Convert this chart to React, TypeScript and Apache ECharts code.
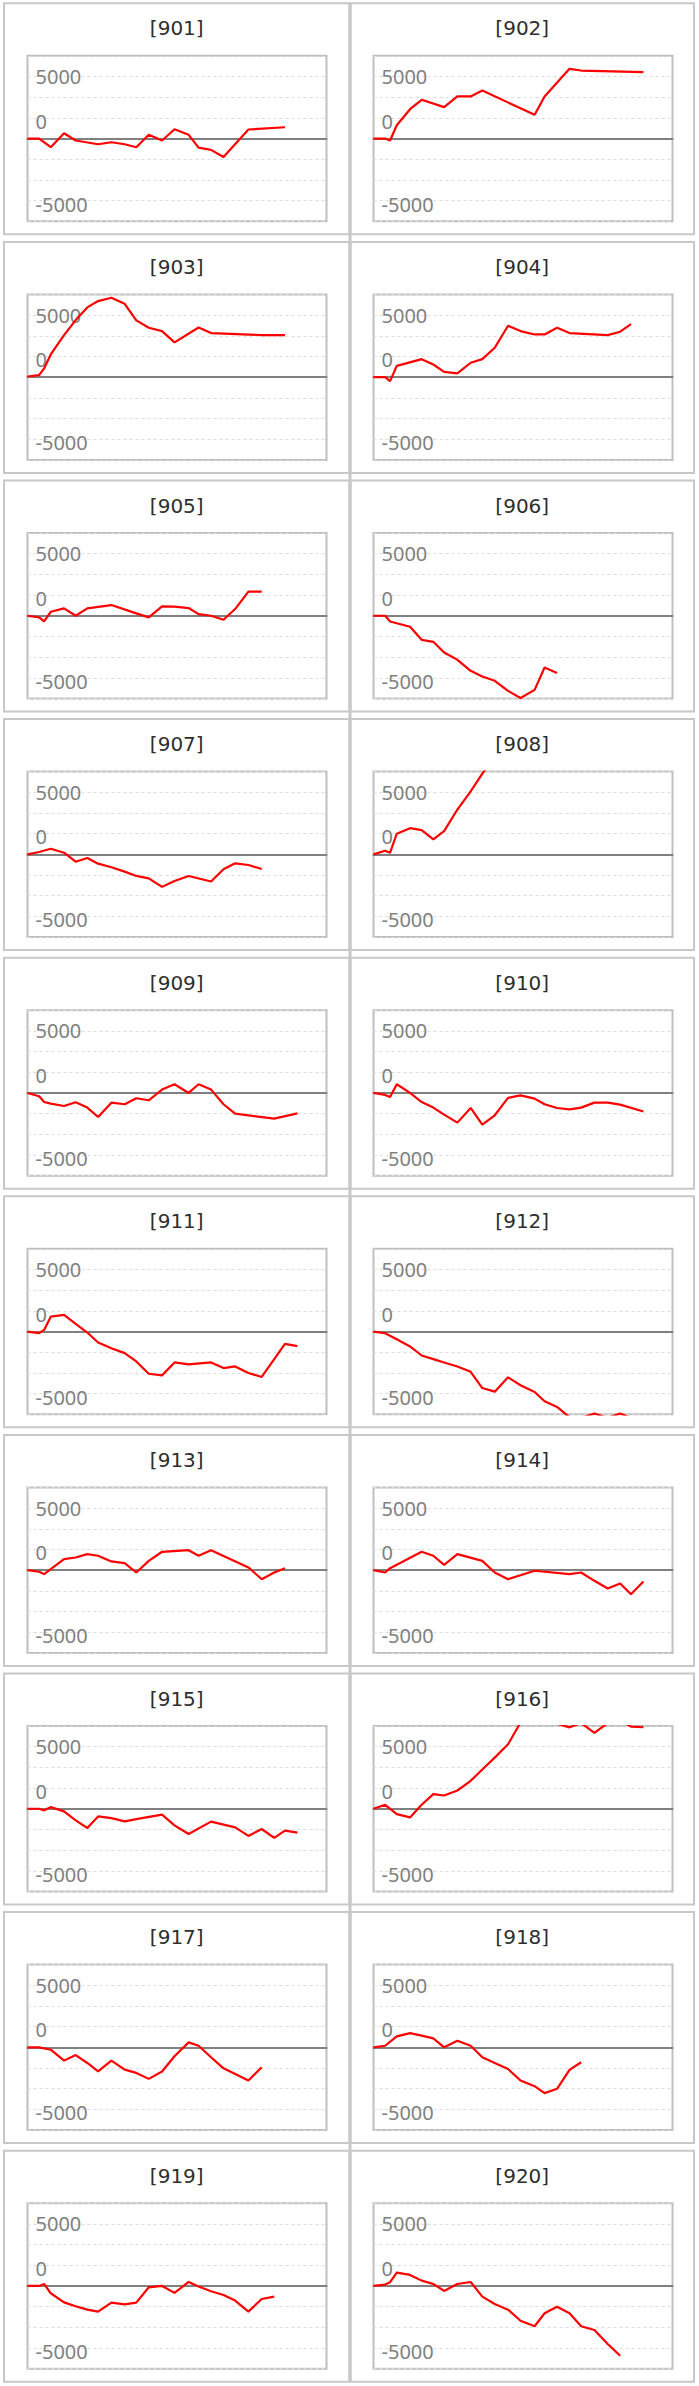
import React, { useEffect, useRef } from "react";
import * as echarts from "echarts";

// Shared sampling dates (day offsets from the start of the period)
const dayOffsets = [0, 14, 20, 28, 44, 58, 72, 85, 101, 117, 131, 146, 162, 177, 194, 206, 221, 236, 250, 266, 282, 297, 310, 325];

const panelNames = ["[901]", "[902]", "[903]", "[904]", "[905]", "[906]", "[907]", "[908]", "[909]", "[910]",
  "[911]", "[912]", "[913]", "[914]", "[915]", "[916]", "[917]", "[918]", "[919]", "[920]"];

type V = number | null;
const s901: V[] = [0, 0, null, -700, 430, -160, null, -460, -300, -460, -700, 300, -160, 750, 300, -730, -910, -1480, null, 730, null, null, 910, null];
const s902: V[] = [0, 0, -160, 1075, 2365, 3120, null, 2530, 3390, 3390, 3870, null, null, null, 1910, 3390, null, 5620, 5480, null, null, null, null, 5350];
const s903: V[] = [50, 160, 700, 1830, 3390, 4600, 5620, 6130, 6400, 5910, 4570, 3980, 3710, 2800, null, 4000, 3550, null, null, null, 3390, null, 3390, null];
const s904: V[] = [0, 0, -320, 910, null, 1450, 1020, 430, 300, 1160, 1450, 2365, 4140, 3710, 3440, 3440, 3980, 3550, null, null, 3390, 3660, 4270, null];
const s905: V[] = [0, -130, -460, 320, 590, 0, 590, null, 860, null, 190, -130, 750, 730, 620, 130, 0, -320, 540, 1940, 1940, null, null, null];
const s906: V[] = [0, 0, -460, null, -890, -1940, -2100, -2960, -3550, -4440, -4890, -5240, -6050, -6620, -5970, -4170, -4620, null, null, null, null, null, null, null];
const s907: V[] = [0, 190, null, 450, 130, -590, -290, -750, -1040, -1390, -1740, -1930, -2620, -2140, -1740, null, -2190, -1200, -720, -860, -1180, null, null, null];
const s908: V[] = [0, 290, 130, 1660, 2110, 1950, 1200, 1870, 3610, 5080, 6500, 7900, null, null, null, null, null, null, null, null, null, null, null, null];
const s909: V[] = [0, -270, -730, -860, -1050, -750, -1180, -1940, -780, -910, -430, -590, 270, 700, 0, 700, 270, -910, -1670, null, null, -2070, null, -1640];
const s910: V[] = [0, -160, -320, 700, 0, -730, -1180, -1750, -2390, -1210, -2550, -1800, -400, -190, -460, -910, -1210, -1320, -1180, -780, -780, -940, null, -1500];
const s911: V[] = [0, -130, 130, 1200, 1340, 620, -80, -880, -1340, -1740, -2410, -3400, -3530, -2490, -2650, null, -2490, -2940, -2810, -3340, -3660, null, -990, -1180];
const s912: V[] = [0, -130, null, -620, -1200, -1930, -2220, -2490, -2810, -3240, -4550, -4840, -3690, -4330, -4870, -5620, -6070, -6900, -6950, -6600, -6950, -6600, -6950, null];
const s913: V[] = [0, -130, -320, null, 890, 1020, 1290, 1160, 700, 560, -190, 750, 1480, null, 1610, 1160, 1610, null, null, 220, -730, -190, 160, null];
const s914: V[] = [0, -190, 160, null, null, 1480, 1160, 430, 1290, null, 750, -190, -730, null, -50, null, null, -320, -190, -860, -1480, -1080, -1940, -910];
const s915: V[] = [0, 0, -130, 130, -210, -940, -1550, -620, -750, -1020, -830, null, -480, -1340, -2030, null, -1040, null, -1500, -2190, -1630, -2350, -1760, -1930];
const s916: V[] = [0, 320, null, -430, -700, 320, 1180, 1070, 1470, 2250, 3160, 4120, 5190, 6950, 7500, 7300, 6850, 6560, 6900, 6120, 6900, 7100, 6620, 6580];
const s917: V[] = [0, 0, null, -190, -1070, -620, -1260, -1930, -1070, -1790, -2060, -2540, -1950, -720, 400, 130, -800, -1690, null, -2670, -1600, null, null, null];
const s918: V[] = [0, 130, null, 880, 1150, 940, 720, 0, 530, 130, -800, -1260, -1740, -2670, -3130, -3690, -3340, -1820, -1200, null, null, null, null, null];
const s919: V[] = [0, 0, 160, -590, -1320, -1640, -1910, -2070, -1340, -1480, -1340, -110, 0, -560, 320, -50, -430, -730, -1180, -2070, -1050, -860, null, null];
const s920: V[] = [0, 110, 300, 1080, 890, 430, 160, -400, 160, 320, -860, -1450, -1910, -2800, -3250, -2200, -1670, -2200, -3250, -3550, -4680, -5620, null, null];

const allSeries = [s901, s902, s903, s904, s905, s906, s907, s908, s909, s910,
  s911, s912, s913, s914, s915, s916, s917, s918, s919, s920];

const yTickLabels = ["5000", "0", "-5000"];

const W = 699;
const H = 2386;
const ROW_H = 238.6;

function buildOption() {
  const grids: any[] = [];
  const xAxes: any[] = [];
  const yAxes: any[] = [];
  const series: any[] = [];
  const graphics: any[] = [];
  const step = 5000 / 3;
  const labelFont = { color: "#808080", fontFamily: "Noto Sans", fontSize: 20 };

  allSeries.forEach((vals, i) => {
    const r = Math.floor(i / 2);
    const c = i % 2;
    const pTop = 3.3 + r * ROW_H;
    const pLeft = c === 0 ? 4 : 350.5;
    const pRight = c === 0 ? 349.5 : 694;
    grids.push({
      left: c === 0 ? 27.5 : 373.5,
      top: pTop + 52.5,
      width: 299,
      height: 165.5,
      show: true,
      borderColor: "#bfbfbf",
      borderWidth: 2,
      backgroundColor: "transparent",
      containLabel: false,
    });
    xAxes.push({
      type: "value",
      gridIndex: i,
      min: 0,
      max: 360,
      axisLine: { show: true, onZero: true, lineStyle: { color: "#808080", width: 2 } },
      axisTick: { show: false },
      axisLabel: { show: false },
      splitLine: { show: false },
    });
    yAxes.push({
      type: "value",
      gridIndex: i,
      min: -4 * step,
      max: 4 * step,
      interval: step,
      axisLine: { show: false },
      axisTick: { show: false },
      splitLine: { show: true, lineStyle: { color: "#dcdcdc", width: 1, type: [3, 3] } },
      axisLabel: {
        inside: true,
        margin: 8,
        ...labelFont,
        formatter: (v: number) => {
          if (Math.abs(v - 5000) < 1) return "{p|" + yTickLabels[0] + "}";
          if (Math.abs(v) < 1) return "{z|" + yTickLabels[1] + "}";
          if (Math.abs(v + 5000) < 1) return "{n|" + yTickLabels[2] + "}";
          return "";
        },
        rich: {
          p: { ...labelFont },
          z: { ...labelFont, padding: [0, 0, 35, 0] },
          n: { ...labelFont, padding: [7, 0, 0, 0] },
        },
      },
    });
    const data = dayOffsets
      .map((d, k) => (vals[k] == null ? null : [d, vals[k]]))
      .filter((p) => p !== null);
    series.push({
      type: "line",
      xAxisIndex: i,
      yAxisIndex: i,
      data,
      showSymbol: false,
      symbol: "none",
      clip: true,
      lineStyle: { color: "#ff0000", width: 2.2 },
      itemStyle: { color: "#ff0000" },
      emphasis: { disabled: true },
      z: 3,
    });
    graphics.push({
      type: "rect",
      silent: true,
      shape: { x: pLeft, y: pTop, width: pRight - pLeft, height: 231 },
      style: { fill: "none", stroke: "#c8c8c8", lineWidth: 2 },
    });
    graphics.push({
      type: "text",
      silent: true,
      x: (pLeft + pRight) / 2,
      y: pTop + 25,
      style: {
        text: panelNames[i],
        fill: "#2e2e2e",
        fontFamily: "DejaVu Sans",
        fontSize: 20,
        align: "center",
        verticalAlign: "middle",
      },
    });
  });
  graphics.push({
    type: "line",
    silent: true,
    shape: { x1: 350, y1: 3, x2: 350, y2: 3.3 + 9 * ROW_H + 231 },
    style: { stroke: "#c8c8c8", lineWidth: 3 },
  });

  return {
    animation: false,
    backgroundColor: "#ffffff",
    grid: grids,
    xAxis: xAxes,
    yAxis: yAxes,
    series,
    graphic: graphics,
  };
}

export default function App() {
  const ref = useRef<HTMLDivElement>(null);
  useEffect(() => {
    if (!ref.current) return;
    const chart = echarts.init(ref.current, undefined, { renderer: "svg", width: W, height: H });
    chart.setOption(buildOption() as any);
    return () => chart.dispose();
  }, []);
  return (
    <div
      ref={ref}
      style={{ position: "absolute", left: 0, top: 0, width: W, height: H, background: "#fff" }}
    />
  );
}
